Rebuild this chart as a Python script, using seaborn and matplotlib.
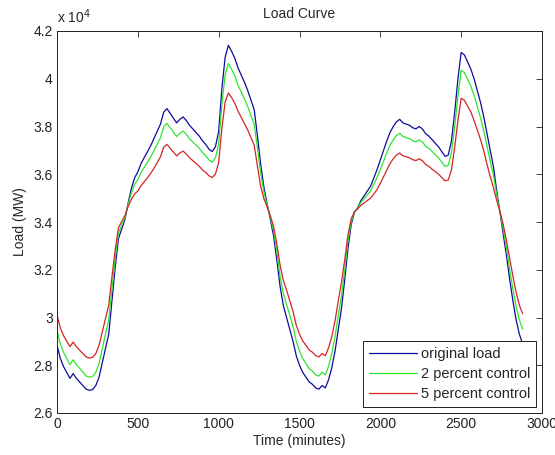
import numpy as np
import pandas as pd
import matplotlib
matplotlib.use('Agg')
import matplotlib.pyplot as plt
import seaborn as sns
from matplotlib.ticker import FuncFormatter

# time axis, one sample every 20 minutes over two days
minutes = list(range(0, 2881, 20))

original_load = [
    28850, 28300, 27950, 27700, 27450, 27650, 27450, 27300, 27150, 27000,
    26950, 26980, 27150, 27500, 28100, 28700, 29300, 30700, 32100, 33300,
    33700, 34100, 34800, 35400, 35850, 36100, 36450, 36700, 36950, 37200,
    37500, 37800, 38100, 38600, 38750, 38550, 38350, 38150, 38300, 38400,
    38250, 38050, 37900, 37750, 37600, 37400, 37250, 37050, 36950, 37150,
    37800, 39600, 40900, 41400, 41150, 40850, 40450, 40150, 39850, 39500,
    39100, 38700, 37600, 36400, 35450, 34750, 34100, 33400, 32400, 31300,
    30500, 30000, 29500, 29000, 28400, 28000, 27700, 27500, 27300, 27200,
    27050, 27000, 27150, 27050, 27400, 27900, 28600, 29500, 30400, 31600,
    32900, 33900, 34400, 34600, 34900, 35100, 35300, 35500, 35850, 36200,
    36600, 37000, 37400, 37750, 38000, 38200, 38300, 38150, 38100, 38050,
    37950, 37900, 38000, 37900, 37700, 37600, 37450, 37300, 37150, 36950,
    36750, 36800, 37400, 38600, 40000, 41100, 41000, 40700, 40400, 40000,
    39500, 39000, 38400, 37700, 37000, 36300, 35300, 34400, 33500, 32600,
    31600, 30700, 29900, 29300, 28900,
]

control_2pct = [
    29470, 28910, 28550, 28290, 28020, 28230, 28020, 27870, 27710, 27550,
    27500, 27530, 27710, 28070, 28700, 29310, 29910, 31180, 32470, 33540,
    33860, 34180, 34740, 35220, 35580, 35780, 36080, 36290, 36510, 36730,
    37000, 37265, 37530, 37990, 38130, 37945, 37760, 37580, 37715, 37810,
    37670, 37485, 37350, 37220, 37090, 36910, 36775, 36595, 36505, 36685,
    37265, 38925, 40165, 40640, 40400, 40115, 39730, 39440, 39155, 38830,
    38455, 38085, 37090, 36035, 35260, 34700, 34180, 33620, 32750, 31730,
    31000, 30550, 30090, 29620, 29010, 28600, 28280, 28070, 27860, 27755,
    27600, 27550, 27705, 27600, 27965, 28495, 29210, 30090, 30920, 32010,
    33210, 34020, 34420, 34580, 34820, 34980, 35140, 35300, 35580, 35870,
    36210, 36550, 36910, 37220, 37440, 37625, 37715, 37580, 37535, 37490,
    37400, 37355, 37440, 37355, 37175, 37090, 36955, 36820, 36685, 36505,
    36330, 36375, 36910, 37990, 39300, 40355, 40260, 39970, 39685, 39300,
    38830, 38360, 37810, 37175, 36550, 35950, 35140, 34420, 33700, 32930,
    32020, 31190, 30450, 29900, 29515,
]

control_5pct = [
    30110, 29580, 29250, 29010, 28780, 28970, 28780, 28630, 28490, 28350,
    28300, 28330, 28490, 28830, 29400, 29980, 30520, 31710, 32830, 33750,
    34020, 34260, 34650, 34950, 35170, 35300, 35520, 35690, 35860, 36040,
    36250, 36490, 36730, 37130, 37250, 37090, 36930, 36770, 36890, 36970,
    36850, 36690, 36570, 36450, 36330, 36180, 36075, 35935, 35865, 36005,
    36490, 37930, 39020, 39400, 39210, 38970, 38640, 38380, 38130, 37850,
    37530, 37210, 36330, 35490, 34975, 34625, 34260, 33800, 33070, 32190,
    31550, 31150, 30700, 30250, 29680, 29300, 29020, 28830, 28640, 28545,
    28400, 28350, 28495, 28400, 28735, 29200, 29870, 30700, 31490, 32430,
    33470, 34140, 34440, 34550, 34700, 34800, 34900, 35000, 35170, 35370,
    35620, 35900, 36180, 36450, 36650, 36810, 36890, 36770, 36730, 36690,
    36610, 36570, 36650, 36570, 36410, 36330, 36215, 36110, 36005, 35865,
    35725, 35760, 36180, 37130, 38250, 39180, 39100, 38850, 38610, 38250,
    37850, 37450, 36970, 36410, 35900, 35430, 34900, 34440, 33900, 33230,
    32470, 31730, 31050, 30520, 30160,
]

series_names = ['original load', '2 percent control', '5 percent control']
series_colors = ['#0c0c9c', '#2ee52e', '#d42424']

df = pd.concat([
    pd.DataFrame({'Time': minutes, 'Load': original_load, 'series': series_names[0]}),
    pd.DataFrame({'Time': minutes, 'Load': control_2pct, 'series': series_names[1]}),
    pd.DataFrame({'Time': minutes, 'Load': control_5pct, 'series': series_names[2]}),
])

sns.set_style('white')
plt.rcParams['font.family'] = ['Liberation Sans', 'DejaVu Sans']
plt.rcParams['xtick.direction'] = 'in'
plt.rcParams['ytick.direction'] = 'in'

fig = plt.figure(figsize=(5.55, 4.55), dpi=100)
ax = fig.add_axes([57 / 555, 42 / 455, 485 / 555, 382 / 455])

sns.lineplot(data=df, x='Time', y='Load', hue='series', palette=series_colors,
             hue_order=series_names, estimator=None, linewidth=0.9, ax=ax)

ax.set_xlim(0, 3000)
ax.set_ylim(26000, 42000)
ax.set_xticks(np.arange(0, 3001, 500))
ax.set_yticks(np.arange(26000, 42001, 2000))
ax.yaxis.set_major_formatter(FuncFormatter(lambda v, p: '%g' % (v / 1e4)))
ax.tick_params(axis='both', which='both', labelsize=10, length=4, width=0.6,
               colors='#222222', top=True, right=True, pad=3)
for s in ax.spines.values():
    s.set_visible(True)
    s.set_color('#222222')
    s.set_linewidth(0.7)

ax.set_xlabel('Time (minutes)', fontsize=10, labelpad=2)
ax.set_ylabel('Load (MW)', fontsize=10, labelpad=5)
ax.set_title('Load Curve', fontsize=10, pad=9)
ax.text(0.0, 1.012, r'x 10$^4$', transform=ax.transAxes, fontsize=10,
        ha='left', va='bottom')

handles, labels = ax.get_legend_handles_labels()
leg = ax.legend(handles, labels, loc='lower right', fontsize=10.5, frameon=True,
                fancybox=False, framealpha=1, edgecolor='#222222',
                borderaxespad=0.4, handlelength=3.3, handletextpad=0.25,
                labelspacing=0.42, borderpad=0.4)
leg.get_frame().set_linewidth(0.7)

fig.savefig('out.png', dpi=100)
